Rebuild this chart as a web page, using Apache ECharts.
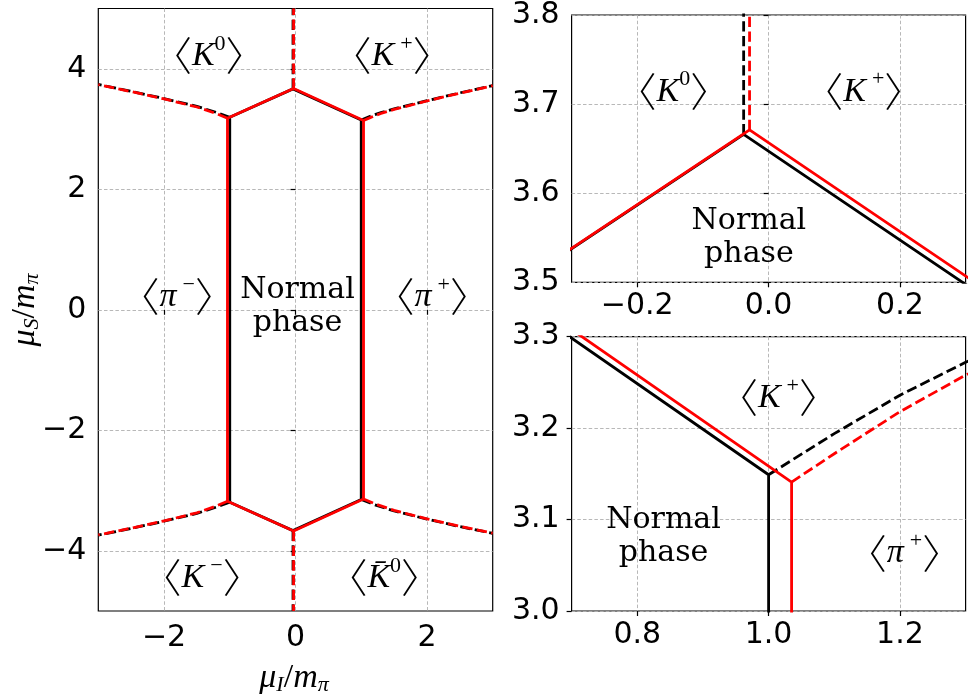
<!DOCTYPE html>
<html>
<head>
<meta charset="utf-8">
<script src="https://cdn.jsdelivr.net/npm/echarts@6/dist/echarts.min.js"></script>
<style>html,body{margin:0;padding:0;background:#fff}#c{width:975px;height:696px}</style>
</head>
<body>
<div id="c"></div>
<script>
// ---------------- data ----------------
// black boundaries
const blackHex = [[-0.038,3.666],[1.0,3.149],[1.0,-3.149],[-0.038,-3.666],[-1.0,-3.195],[-1.0,3.195],[-0.038,3.666]];
const blackDashTop = [[-0.038,3.666],[-0.038,5.0]];
const blackDashBottom = [[-0.038,-3.666],[-0.038,-5.0]];
const blackDashUR = [[1.0,3.149],[1.1,3.194],[1.2,3.236],[1.3,3.272],[1.5,3.335],[2.0,3.47],[2.5,3.60],[3.0,3.72]];
const blackDashUL = [[-1.0,3.195],[-1.2,3.275],[-1.5,3.375],[-2.0,3.505],[-2.5,3.625],[-3.0,3.74]];
const blackDashLR = [[1.0,-3.149],[1.2,-3.236],[1.5,-3.34],[2.0,-3.475],[2.5,-3.60],[3.0,-3.71]];
const blackDashLL = [[-1.0,-3.195],[-1.2,-3.275],[-1.5,-3.38],[-2.0,-3.51],[-2.5,-3.63],[-3.0,-3.74]];
// red boundaries
const redHex = [[-0.029,3.671],[1.035,3.141],[1.035,-3.141],[-0.029,-3.671],[-1.035,-3.178],[-1.035,3.178],[-0.029,3.671]];
const redDashTop = [[-0.029,3.671],[-0.029,5.0]];
const redDashBottom = [[-0.029,-3.671],[-0.029,-5.0]];
const redDashUR = [[1.035,3.141],[1.1,3.172],[1.2,3.218],[1.3,3.258],[1.5,3.325],[2.0,3.465],[2.5,3.595],[3.0,3.718]];
const redDashUL = [[-1.035,3.178],[-1.2,3.255],[-1.5,3.365],[-2.0,3.50],[-2.5,3.62],[-3.0,3.738]];
const redDashLR = [[1.035,-3.141],[1.2,-3.218],[1.5,-3.33],[2.0,-3.47],[2.5,-3.595],[3.0,-3.708]];
const redDashLL = [[-1.035,-3.178],[-1.2,-3.255],[-1.5,-3.37],[-2.0,-3.505],[-2.5,-3.625],[-3.0,-3.738]];

// axis ranges and tick labels
const xTicksMain = [-2, 0, 2];
const yTicksMain = [-4, -2, 0, 2, 4];
const xTicksTop = [-0.2, 0.0, 0.2];
const yTicksTop = [3.5, 3.6, 3.7, 3.8];
const xTicksBot = [0.8, 1.0, 1.2];
const yTicksBot = [3.0, 3.1, 3.2, 3.3];

// region labels: [x, y, text]
const labelsMain = [
  [-1.32, 4.21, 'K0'], [1.47, 4.21, 'Kp'], [-1.80, 0.21, 'pim'], [0.03, 0.05, 'N'],
  [2.08, 0.21, 'pip'], [-1.42, -4.45, 'Km'], [1.35, -4.45, 'K0bar']
];
const labelsTop = [[-0.145, 3.714, 'K0'], [0.145, 3.714, 'Kp'], [-0.03, 3.55, 'N']];
const labelsBot = [[1.015, 3.233, 'Kp'], [0.84, 3.081, 'N'], [1.207, 3.063, 'pip']];

// ---------------- styling ----------------
const texts = {
  K0: '{bl|\u3008}{k|K}{sp|0}{bri|\u3009}',
  Kp: '{bl|\u3008}{k|K}{spp|+}{bri|\u3009}',
  Km: '{bl|\u3008}{k|K}{spp|\u2212}{bri|\u3009}',
  pip: '{bl|\u3008}{k|\u03C0}{spp|+}{bri|\u3009}',
  pim: '{bl|\u3008}{k|\u03C0}{spp|\u2212}{bri|\u3009}',
  K0bar: '{bl|\u3008}{k|K\u0304}{sp|0}{bri|\u3009}',
  N: '{n|Normal}\n{n|phase}'
};
const noBorder = {textBorderWidth: 0, textBorderColor: 'transparent', textShadowBlur: 0, color: '#000'};
const brStyle = {fontFamily: 'Noto Sans CJK JP', fontSize: 40, fontWeight: 300, lineHeight: 46};
const richLab = {
  bl: Object.assign({}, brStyle, noBorder),
  bri: Object.assign({}, brStyle, noBorder),
  k: Object.assign({fontFamily: 'Liberation Serif', fontStyle: 'italic', fontSize: 34, lineHeight: 46}, noBorder),
  sp: Object.assign({fontFamily: 'Liberation Serif', fontSize: 22, verticalAlign: 'top', lineHeight: 34}, noBorder),
  spp: Object.assign({fontFamily: 'Liberation Serif', fontSize: 22, verticalAlign: 'top', lineHeight: 30, padding: [0, 0, 0, 6]}, noBorder),
  n: Object.assign({fontFamily: 'DejaVu Serif', fontSize: 30, lineHeight: 33, align: 'center'}, noBorder)
};
const richAxis = {
  i: Object.assign({fontFamily: 'Liberation Serif', fontStyle: 'italic', fontSize: 34, lineHeight: 36}, noBorder),
  r: Object.assign({fontFamily: 'Liberation Serif', fontSize: 34, lineHeight: 36}, noBorder),
  sb: Object.assign({fontFamily: 'Liberation Serif', fontStyle: 'italic', fontSize: 22, verticalAlign: 'bottom', lineHeight: 10}, noBorder)
};

function fmt(dec) {
  return function (v) {
    const s = Math.abs(v).toFixed(dec);
    return (v < -1e-9 ? '\u2212' : '') + s;
  };
}
function axis(gi, min, max, ticks, dec, margin) {
  return {
    type: 'value', gridIndex: gi, min: min, max: max,
    axisLine: {show: false},
    axisTick: {show: true, inside: false, length: 5, lineStyle: {color: '#000', width: 1.2}, customValues: ticks},
    axisLabel: {show: true, customValues: ticks, margin: margin, fontFamily: 'DejaVu Sans', fontSize: 30, color: '#000', formatter: fmt(dec), showMinLabel: true, showMaxLabel: true, hideOverlap: false},
    splitLine: {show: true, lineStyle: {color: '#b0b0b0', width: 0.9, type: [3.5, 2.2]}}
  };
}
const grids = [
  {left: 98.3, top: 8.5, width: 394.4, height: 602.5},
  {left: 571.6, top: 8.5, width: 394, height: 273.8},
  {left: 571.6, top: 336.7, width: 394, height: 274.3}
].map(g => Object.assign(g, {show: true, borderColor: '#000', borderWidth: 1.2, backgroundColor: 'rgba(0,0,0,0)', containLabel: false}));

const xAxes = [axis(0, -3, 3, xTicksMain, 0, 12), axis(1, -0.3, 0.3, xTicksTop, 1, 9), axis(2, 0.7, 1.3, xTicksBot, 1, 9)];
const yAxes = [axis(0, -5, 5, yTicksMain, 0, 12), axis(1, 3.5, 3.8, yTicksTop, 1, 12), axis(2, 3.0, 3.3, yTicksBot, 1, 12)];

const segs = [
  [blackHex, '#000', false], [blackDashTop, '#000', true], [blackDashBottom, '#000', true],
  [blackDashUR, '#000', true], [blackDashUL, '#000', true], [blackDashLR, '#000', true], [blackDashLL, '#000', true],
  [redHex, '#ff0000', false], [redDashTop, '#ff0000', true], [redDashBottom, '#ff0000', true],
  [redDashUR, '#ff0000', true], [redDashUL, '#ff0000', true], [redDashLR, '#ff0000', true], [redDashLL, '#ff0000', true]
];
const series = [];
for (let g = 0; g < 3; g++) {
  segs.forEach((s, i) => {
    series.push({
      type: 'line', xAxisIndex: g, yAxisIndex: g, data: s[0],
      symbol: 'none', showSymbol: false, silent: true, clip: true,
      z: 2 + i * 0.01,
      lineStyle: {color: s[1], width: 2.8, type: s[2] ? [10.3, 4.4] : 'solid', cap: 'butt', join: 'round'}
    });
  });
}
[labelsMain, labelsTop, labelsBot].forEach((labs, g) => {
  series.push({
    type: 'scatter', xAxisIndex: g, yAxisIndex: g, symbolSize: 0, silent: true, z: 5,
    itemStyle: {color: '#000', opacity: 1},
    data: labs.map(l => ({value: [l[0], l[1]], label: {formatter: texts[l[2]]}})),
    label: Object.assign({show: true, position: 'inside', rich: richLab, align: 'center', verticalAlign: 'middle', opacity: 1}, noBorder),
    emphasis: {disabled: true}
  });
});

const option = {
  animation: false,
  backgroundColor: '#ffffff',
  grid: grids,
  xAxis: xAxes,
  yAxis: yAxes,
  series: series,
  graphic: [
    {type: 'text', x: 294, y: 678, z: 10,
     style: {text: '{i|\u03BC}{sb|I}{r|/}{i|m}{sb|\u03C0}', rich: richAxis, align: 'center', verticalAlign: 'middle'}},
    {type: 'text', x: 25, y: 310, rotation: Math.PI / 2, z: 10,
     style: {text: '{i|\u03BC}{sb|S}{r|/}{i|m}{sb|\u03C0}', rich: richAxis, align: 'center', verticalAlign: 'middle'}}
  ]
};
const chart = echarts.init(document.getElementById('c'), null, {renderer: 'canvas'});
chart.setOption(option);
</script>
</body>
</html>
